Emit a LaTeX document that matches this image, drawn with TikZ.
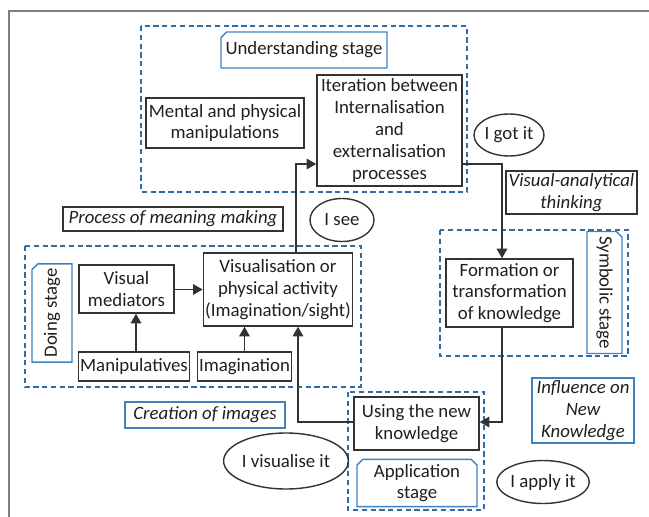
\documentclass[tikz,border=0pt]{standalone}
\usepackage{fontspec}
\setmainfont{Carlito}
\usetikzlibrary{arrows.meta,shapes.geometric,shapes.misc}
\definecolor{stageblue}{HTML}{2F6DA8}
\definecolor{labelblue}{HTML}{3F82C2}
\definecolor{boxgray}{HTML}{333333}
\definecolor{framegray}{HTML}{7F7F7F}
\begin{document}
\begin{tikzpicture}[x=0.02cm,y=-0.02cm,
    font=\fontsize{10.7}{12.4}\selectfont, text=black!88,
    box/.style={draw=boxgray, line width=0.8pt, rectangle, align=center, inner sep=1pt},
    note/.style={draw=labelblue, line width=0.8pt, rectangle, align=center, inner sep=1pt, font=\fontsize{10.7}{12.4}\selectfont\itshape},
    bubble/.style={draw=boxgray, line width=0.8pt, ellipse, inner sep=0pt},
    stagelabel/.style={draw=labelblue, line width=0.8pt, chamfered rectangle, chamfered rectangle xsep=1.6pt, chamfered rectangle ysep=1.6pt, align=center, inner sep=1pt},
    stageframe/.style={draw=stageblue, line width=0.8pt, dash pattern=on 3pt off 2pt},
    arr/.style={draw=boxgray, line width=0.8pt, -{Triangle[length=5.5pt,width=6pt]}}]

    \useasboundingbox (0,0) rectangle (649,517);
    \draw[framegray, line width=1.2pt] (649,11) -- (9,11) -- (9,517);

    % stage frames
    \draw[stageframe] (141,26) rectangle (467,192);
    \draw[stageframe] (25,246) rectangle (361,387);
    \draw[stageframe] (440,230) rectangle (628,356);
    \draw[stageframe] (348,392) rectangle (484,510);

    % understanding stage
    \node[stagelabel, chamfered rectangle corners=north west, minimum width=3.28cm, minimum height=0.72cm] (ustage) at (304,50) {Understanding stage};
    \node[box, minimum width=3.16cm, minimum height=1.0cm] (mental) at (225,123) {Mental and physical\\manipulations};
    \node[box, minimum width=2.9cm, minimum height=2.22cm] (iter) at (389.5,130.5) {Iteration between\\Internalisation\\and\\externalisation\\processes};
    \node[bubble, minimum width=1.4cm, minimum height=0.84cm] (gotit) at (509,135) {I got it};
    \node[box, font=\fontsize{10.7}{12.4}\selectfont\itshape, minimum width=2.62cm, minimum height=0.86cm] (vat) at (571.5,192.5) {Visual-analytical\\thinking};
    \node[box, font=\fontsize{10.7}{12.4}\selectfont\itshape, minimum width=4.4cm, minimum height=0.48cm] (process) at (173,219) {Process of meaning making};
    \node[bubble, minimum width=1.28cm, minimum height=0.86cm] (isee) at (342,220) {I see};

    % doing stage
    \node[stagelabel, rotate=90, chamfered rectangle corners=north east, minimum width=1.96cm, minimum height=0.8cm] (dstage) at (52,313) {Doing stage};
    \node[box, minimum width=1.9cm, minimum height=0.96cm] (vmed) at (126.5,289) {Visual\\mediators};
    \node[box, minimum width=2.96cm, minimum height=1.46cm] (viz) at (278,289.5) {Visualisation or\\physical activity\\(Imagination/sight)};
    \node[box, minimum width=2.2cm, minimum height=0.58cm] (manip) at (134,366.5) {Manipulatives};
    \node[box, minimum width=1.86cm, minimum height=0.58cm] (imag) at (244.5,366.5) {Imagination};
    \node[note, minimum width=3.2cm, minimum height=0.52cm] (creation) at (205,415) {Creation of images};
    \node[bubble, minimum width=2.0cm, minimum height=1.12cm] (ivis) at (286,461) {I visualise it};

    % symbolic stage
    \node[stagelabel, rotate=-90, chamfered rectangle corners=north west, minimum width=2.38cm, minimum height=0.7cm] (sstage) at (604.5,292.5) {Symbolic stage};
    \node[box, minimum width=2.54cm, minimum height=1.36cm] (form) at (509.5,293) {Formation or\\transformation\\of knowledge};

    % application stage
    \node[box, minimum width=2.5cm, minimum height=1.06cm] (using) at (416.5,423.5) {Using the new\\knowledge};
    \node[stagelabel, chamfered rectangle corners={north west,north east}, minimum width=2.4cm, minimum height=0.84cm] (astage) at (417,483) {Application\\stage};
    \node[note, minimum width=2.04cm, minimum height=1.3cm] (influence) at (583,410.5) {Influence on\\New\\Knowledge};
    \node[bubble, minimum width=1.8cm, minimum height=0.86cm] (iapply) at (543,482) {I apply it};

    % bends
    \coordinate (b1) at (296,164);
    \coordinate (b2) at (502,164);
    \coordinate (b3) at (502,422);
    \coordinate (b4) at (298,422);
    \coordinate (b5) at (136,0);

    \draw[arr] (manip.north -| b5) -- (vmed.south -| b5);
    \draw[arr] (imag.north) -- (viz.south -| imag.north);
    \draw[arr] (vmed.east |- viz.west) -- (viz.west);
    \draw[arr] (viz.north -| b1) |- (iter.west |- b1);
    \draw[arr] (iter.east |- b2) -| (form.north -| b2);
    \draw[arr] (form.south -| b3) |- (using.east |- b3);
    \draw[arr] (using.west |- b4) -| (viz.south -| b4);

\end{tikzpicture}
\end{document}
